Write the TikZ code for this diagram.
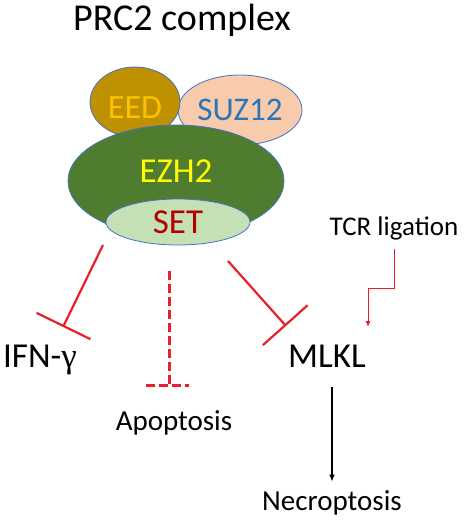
\documentclass[tikz,border=0pt]{standalone}
\usepackage{fontspec}
\setmainfont{Carlito}
\newfontfamily\greekfont{Liberation Serif}
\usetikzlibrary{shapes.geometric,arrows.meta}
\definecolor{blobline}{HTML}{4472C4}
\definecolor{eedfill}{HTML}{BF9000}
\definecolor{eedtext}{HTML}{FFC000}
\definecolor{suzfill}{HTML}{F8CBAD}
\definecolor{suztext}{HTML}{2E75B6}
\definecolor{ezhfill}{HTML}{507C30}
\definecolor{ezhtext}{HTML}{FFFF00}
\definecolor{setfill}{HTML}{C5E0B4}
\definecolor{settext}{HTML}{B00000}
\definecolor{inhred}{HTML}{E8202A}

\begin{document}
\begin{tikzpicture}[x=1pt,y=-1pt]
        \tikzset{blob/.style = {shape=ellipse,draw=blobline,line width=0.8pt,inner sep=0pt}}
        \tikzset{tag/.style = {anchor=base,font=\fontsize{29}{31}\selectfont}}
        \tikzset{inhibit/.style = {-{Bar[width=60pt]},draw=inhred,line width=2.2pt}}
        \tikzset{dashinhibit/.style = {draw=inhred,line width=3pt,dash pattern=on 9pt off 4pt}}
        \tikzset{act/.style = {-{Latex[length=7pt,width=6pt]},line width=1.2pt}}
        \useasboundingbox (0,0) rectangle (472,520);
        % complex
        \node[anchor=base,font=\fontsize{38}{40}\selectfont] (title) at (182,30) {PRC2 complex};
        \node[blob,fill=suzfill,minimum width=124pt,minimum height=70pt,text=suztext,
              font=\fontsize{33}{35}\selectfont] (suz) at (240,110) {SUZ12};
        \node[blob,fill=eedfill,minimum width=90pt,minimum height=70pt,text=eedtext,text height=32pt,
              font=\fontsize{34}{36}\selectfont] (eed) at (135,102) {EED};
        \node[blob,fill=ezhfill,minimum width=216pt,minimum height=112pt,text=ezhtext,text depth=20pt,
              font=\fontsize{35}{37}\selectfont] (ezh) at (176,181) {EZH2};
        \node[blob,fill=setfill,minimum width=144pt,minimum height=46pt,text=settext,
              font=\fontsize{35}{37}\selectfont] (set) at (178,222) {SET};
        % targets
        \node[tag,font=\fontsize{35}{37}\selectfont] (ifn) at (40,367) {IFN-{\greekfont γ}};
        \node[tag,font=\fontsize{35}{37}\selectfont] (mlkl) at (327,367) {MLKL};
        \node[tag] (apop) at (174,430) {Apoptosis};
        \node[tag] (necro) at (332,510) {Necroptosis};
        \node[tag,font=\fontsize{27}{29}\selectfont] (tcr) at (394,235) {TCR ligation};
        \coordinate (ifnfrom) at (103,245);
        \coordinate (ifnto) at (63,327);
        \coordinate (mlklfrom) at (228,261);
        \coordinate (mlklto) at (286,326);
        \coordinate (apofrom) at (169,271);
        \coordinate (apoto) at (169,385);
        \coordinate (apobarl) at (146,385);
        \coordinate (apobarr) at (189,385);
        \coordinate (tcrto) at (368,327);
        % edges
        \draw[inhibit] (ifnfrom) -- (ifnto);
        \draw[inhibit] (mlklfrom) -- (mlklto);
        \draw[dashinhibit] (apofrom) -- (apoto);
        \draw[dashinhibit] (apobarl) -- (apobarr);
        \draw[-{Latex[length=6pt,width=5pt]},draw=inhred,line width=1pt]
              (tcr.south) ++(0,6) -- ++(0,39) -| (tcrto);
        \draw[act,shorten >=5pt] (mlkl.south -| necro.north) ++(0,16) -- (necro.north);
\end{tikzpicture}
\end{document}
